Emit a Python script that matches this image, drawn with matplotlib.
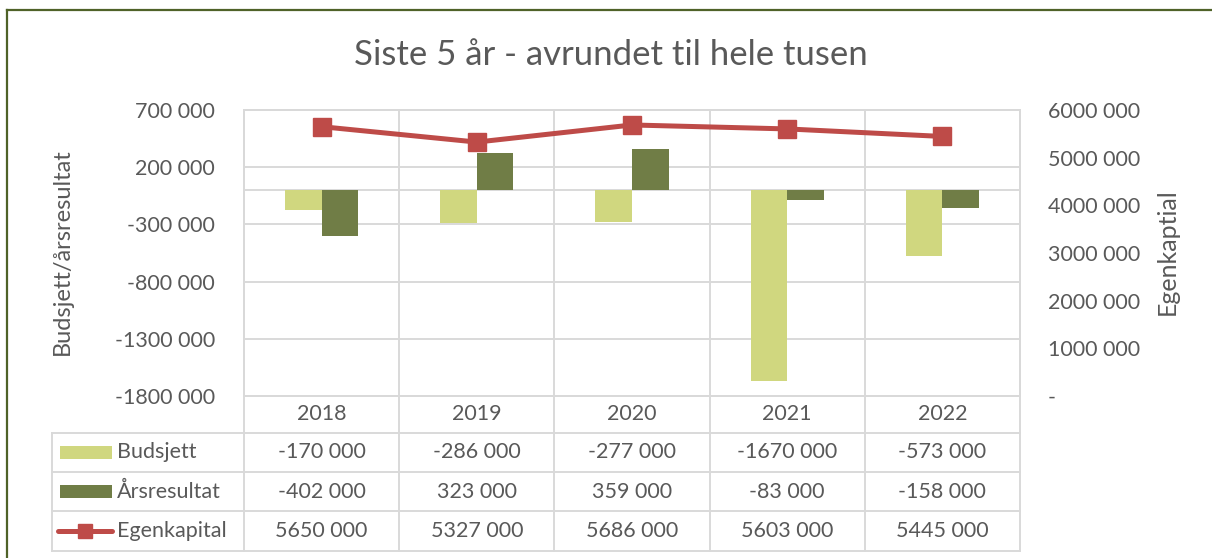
import numpy as np
import matplotlib
matplotlib.use("Agg")
import matplotlib.pyplot as plt
from matplotlib.lines import Line2D
from matplotlib.patches import Rectangle
import matplotlib.transforms as mtransforms

plt.rcParams['font.family'] = ['Lato', 'DejaVu Sans']

# ---- data ----
years = ["2018", "2019", "2020", "2021", "2022"]
budsjett = [-170000, -286000, -277000, -1670000, -573000]
arsresultat = [-402000, 323000, 359000, -83000, -158000]
egenkapital = [5650000, 5327000, 5686000, 5603000, 5445000]
series_names = ["Budsjett", "Årsresultat", "Egenkapital"]
left_ticks = [-1800000, -1300000, -800000, -300000, 200000, 700000]
right_ticks = [0, 1000000, 2000000, 3000000, 4000000, 5000000, 6000000]
title = "Siste 5 år - avrundet til hele tusen"
left_label = "Budsjett/årsresultat"
right_label = "Egenkaptial"

# ---- style ----
W, H = 1212, 558
C_BUD = "#D0D77F"
C_ARS = "#707D46"
C_EGK = "#BE4B48"
C_GRID = "#D9D9D9"
C_TXT = "#595959"
C_BORDER = "#4F6228"
FS = 15.5


def fmt(v):
    v = int(round(v))
    if v == 0:
        return "-"
    s = "-" if v < 0 else ""
    a = abs(v)
    return f"{s}{a // 1000} {a % 1000:03d}"


fig = plt.figure(figsize=(W / 100, H / 100), dpi=100)
fig.patch.set_facecolor("white")


def fx(px):
    return px / W


def fy(py):
    return 1 - py / H


ax = fig.add_axes([fx(244), fy(396), (1020 - 244) / W, (396 - 110) / H])
ax2 = ax.twinx()

x = np.arange(len(years))
bw = 0.236
ax.bar(x - bw / 2, budsjett, width=bw, color=C_BUD, zorder=3)
ax.bar(x + bw / 2, arsresultat, width=bw, color=C_ARS, zorder=3)
ax2.plot(x, egenkapital, color=C_EGK, lw=3.6, marker="s", ms=12.5,
         solid_capstyle="round", zorder=4)

ax.set_xlim(-0.5, len(years) - 0.5)
ax.set_ylim(left_ticks[0], left_ticks[-1])
ax2.set_ylim(right_ticks[0], right_ticks[-1])
ax.set_yticks(left_ticks)
ax.set_yticklabels([fmt(v) for v in left_ticks])
ax2.set_yticks(right_ticks)
ax2.set_yticklabels([fmt(v) for v in right_ticks])
ax.set_xticks([])
ax.set_xticks(np.arange(-0.5, len(years), 1.0), minor=True)
ax.tick_params(axis="x", which="both", length=0, labelbottom=False)
ax.tick_params(axis="y", length=0, pad=21, labelsize=FS, labelcolor=C_TXT)
ax2.tick_params(axis="y", length=0, pad=20, labelsize=FS, labelcolor=C_TXT)
ax.grid(axis="y", color=C_GRID, lw=1.4, zorder=0)
ax.grid(axis="x", which="minor", color=C_GRID, lw=1.4, zorder=0)
ax.axhline(0, color=C_GRID, lw=1.4, zorder=1)
for a in (ax, ax2):
    for sp in a.spines.values():
        sp.set_color(C_GRID)
        sp.set_linewidth(1.4)

fig.text(fx(62), fy(252), left_label, rotation=90, ha="center", va="center",
         fontsize=17, color=C_TXT)
fig.text(fx(1167), fy(252), right_label, rotation=90, ha="center", va="center",
         fontsize=18, color=C_TXT)

fig.text(fx(611), fy(55), title, ha="center", va="center", fontsize=25,
         color=C_TXT)

# ---- data table ----
blend = mtransforms.blended_transform_factory(ax.transData, fig.transFigure)
row_tops = [396, 433, 472, 511, 551]
fig.add_artist(Line2D([fx(244), fx(1020)], [fy(433), fy(433)], color=C_GRID, lw=1.4))
fig.add_artist(Line2D([fx(52), fx(244)], [fy(433), fy(433)], color=C_GRID, lw=1.4))
for yy in row_tops[2:]:
    fig.add_artist(Line2D([fx(52), fx(1020)], [fy(yy), fy(yy)], color=C_GRID, lw=1.4))
fig.add_artist(Line2D([fx(52), fx(52)], [fy(433), fy(551)], color=C_GRID, lw=1.4))
for b in np.arange(-0.5, len(years), 1.0):
    fig.add_artist(Line2D([b, b], [fy(396), fy(551)], color=C_GRID, lw=1.4,
                          transform=blend))

centers = [(row_tops[i] + row_tops[i + 1]) / 2 for i in range(4)]
for i, yr in enumerate(years):
    fig.text(i, fy(centers[0]), yr, transform=blend, ha="center", va="center",
             fontsize=FS, color=C_TXT)
for r, vals in enumerate([budsjett, arsresultat, egenkapital]):
    for i, v in enumerate(vals):
        fig.text(i, fy(centers[r + 1]), fmt(v), transform=blend, ha="center",
                 va="center", fontsize=FS, color=C_TXT)

# legend keys
for r, c in enumerate([C_BUD, C_ARS]):
    cy = centers[r + 1]
    fig.add_artist(Rectangle((fx(60), fy(cy + 6.5)), (112 - 60) / W, 13 / H,
                             facecolor=c, edgecolor="none",
                             transform=fig.transFigure))
cy = centers[3]
fig.add_artist(Line2D([fx(58), fx(112)], [fy(cy), fy(cy)], color=C_EGK, lw=3.6,
                      solid_capstyle="round"))
fig.add_artist(Line2D([fx(85)], [fy(cy)], color=C_EGK, marker="s", ms=10, lw=0))
for r, name in enumerate(series_names):
    fig.text(fx(117), fy(centers[r + 1]), name, ha="left", va="center",
             fontsize=FS, color=C_TXT)

# outer border (top and left visible)
fig.add_artist(Line2D([fx(7), fx(W)], [fy(10), fy(10)], color=C_BORDER, lw=1.6))
fig.add_artist(Line2D([fx(7), fx(7)], [fy(10), fy(H)], color=C_BORDER, lw=1.6))

fig.savefig("out.png", dpi=100, facecolor="white")
